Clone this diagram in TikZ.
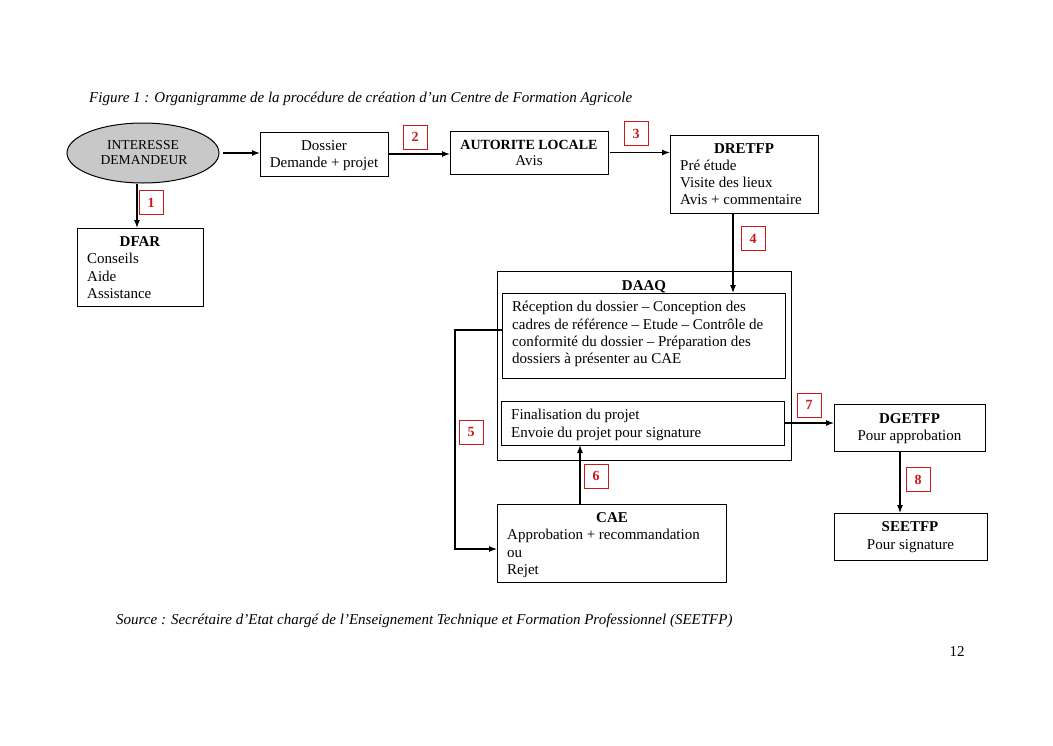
\documentclass[tikz,border=0pt]{standalone}
\usepackage{fontspec}
\setmainfont{Liberation Serif}
\usetikzlibrary{arrows.meta,shapes.geometric}
\definecolor{labred}{RGB}{200,25,25}
\definecolor{ellgray}{RGB}{200,200,200}
\begin{document}
\begin{tikzpicture}[x=1pt,y=-1pt,
 box/.style={draw,line width=1pt,anchor=north west,inner sep=0,outer sep=0},
 num/.style={draw=labred,line width=0.9pt,text=labred,font=\fontsize{14}{14}\selectfont\bfseries,minimum width=24pt,minimum height=24pt,inner sep=0},
 txt/.style={inner sep=0,font=\fontsize{15}{17}\selectfont},
 bt/.style={inner sep=0,font=\fontsize{15}{17}\selectfont\bfseries},
 small/.style={inner sep=0,font=\fontsize{13.6}{15}\selectfont},
 captext/.style={inner sep=0,font=\fontsize{15}{17}\selectfont\itshape,anchor=base west},
 arr/.style={-{Latex[length=8pt,width=6pt]},line width=1.1pt}]
\fill[white] (0,0) rectangle (1053,745);
\useasboundingbox (0,0) rectangle (1053,745);

% caption
\node[captext] (title) at (89,102) {Figure 1 : Organigramme de la procédure de création d’un Centre de Formation Agricole};
\node[captext] (source) at (116,624) {Source : Secrétaire d’Etat chargé de l’Enseignement Technique et Formation Professionnel (SEETFP)};
\node[txt,anchor=base] (page) at (957,656) {12};

% ellipse
\node[ellipse,draw,line width=1pt,fill=ellgray,minimum width=152pt,minimum height=60pt,inner sep=0] (int) at (143,153) {};
\node[small,anchor=base] (intA) at (143,149) {INTERESSE};
\node[small,anchor=base] (intB) at (144,164.5) {DEMANDEUR};

% boxes
\node[box,minimum width=128pt,minimum height=44pt] (doss) at (260,132) {};
\node[box,minimum width=158pt,minimum height=43pt] (aut) at (450,131) {};
\node[box,minimum width=148pt,minimum height=78pt] (dret) at (670,135) {};
\node[box,minimum width=126pt,minimum height=78pt] (dfar) at (77,228) {};
\node[box,minimum width=294pt,minimum height=189pt] (daaq) at (497,271) {};
\node[box,minimum width=283pt,minimum height=85pt] (in1) at (502,293) {};
\node[box,minimum width=283pt,minimum height=44pt] (in2) at (501,401) {};
\node[box,minimum width=229pt,minimum height=78pt] (cae) at (497,504) {};
\node[box,minimum width=151pt,minimum height=47pt] (dge) at (834,404) {};
\node[box,minimum width=153pt,minimum height=47pt] (see) at (834,513) {};

% texts
\node[txt,anchor=base] (dossA) at (324,150) {Dossier};
\node[txt,anchor=base] (dossB) at (324,167) {Demande + projet};

\node[inner sep=0,anchor=base,font=\fontsize{14}{17}\selectfont\bfseries] (autA) at (529,149) {AUTORITE LOCALE};
\node[txt,anchor=base] (autB) at (529,165) {Avis};

\node[bt,anchor=base] (dretA) at (744,153) {DRETFP};
\node[txt,anchor=base west] (dretB) at (680,170) {Pré étude};
\node[txt,anchor=base west] (dretC) at (680,187) {Visite des lieux};
\node[txt,anchor=base west] (dretD) at (680,204) {Avis + commentaire};

\node[bt,anchor=base] (dfarA) at (140,246) {DFAR};
\node[txt,anchor=base west] (dfarB) at (87,263) {Conseils};
\node[txt,anchor=base west] (dfarC) at (87,281) {Aide};
\node[txt,anchor=base west] (dfarD) at (87,298) {Assistance};

\node[bt,anchor=base] (daaqA) at (644,290) {DAAQ};
\node[txt,anchor=base west] (in1A) at (512,311) {Réception du dossier – Conception des};
\node[txt,anchor=base west] (in1B) at (512,329) {cadres de référence – Etude – Contrôle de};
\node[txt,anchor=base west] (in1C) at (512,346) {conformité du dossier – Préparation des};
\node[txt,anchor=base west] (in1D) at (512,363) {dossiers à présenter au CAE};
\node[txt,anchor=base west] (in2A) at (511,419) {Finalisation du projet};
\node[txt,anchor=base west] (in2B) at (511,437) {Envoie du projet pour signature};

\node[bt,anchor=base] (caeA) at (612,522) {CAE};
\node[txt,anchor=base west] (caeB) at (507,539) {Approbation + recommandation};
\node[txt,anchor=base west] (caeC) at (507,557) {ou};
\node[txt,anchor=base west] (caeD) at (507,574) {Rejet};

\node[bt,anchor=base] (dgeA) at (909.5,423) {DGETFP};
\node[txt,anchor=base] (dgeB) at (909.5,440) {Pour approbation};
\node[bt,anchor=base] (seeA) at (910,531) {SEETFP};
\node[txt,anchor=base] (seeB) at (910.5,549) {Pour signature};

% number labels
\node[num] (n1) at (151,202.5) {1};
\node[num] (n2) at (415,137) {2};
\node[num] (n3) at (636,133.5) {3};
\node[num] (n4) at (753,238.5) {4};
\node[num] (n5) at (471,432) {5};
\node[num] (n6) at (596,476) {6};
\node[num] (n7) at (809,405) {7};
\node[num] (n8) at (918,479.5) {8};

% connectors
\coordinate (c5a) at (455,330);
\coordinate (c5b) at (455,549);
\coordinate (c6) at (580,0);
\coordinate (c8) at (900,0);
\draw[arr] ([xshift=3pt]int.east) -- (int.east -| doss.west);
\draw[arr] ([xshift=-3pt]dfar.north |- int.south) -- ([xshift=-3pt]dfar.north);
\draw[arr] (doss.east) -- (doss.east -| aut.west);
\draw[arr] ([xshift=2pt]aut.east) -- (aut.east -| dret.west);
\draw[arr] ([xshift=-11pt]dret.south) -- ([xshift=-11pt]dret.south |- in1.north);
\draw[arr] (in1.west |- c5a) -- (c5a) -- (c5b) -- (c5b -| cae.west);
\draw[arr] (c6 |- cae.north) -- (c6 |- in2.south);
\draw[arr] (in2.east) -- (in2.east -| dge.west);
\draw[arr] (c8 |- dge.south) -- (c8 |- see.north);
\end{tikzpicture}
\end{document}
